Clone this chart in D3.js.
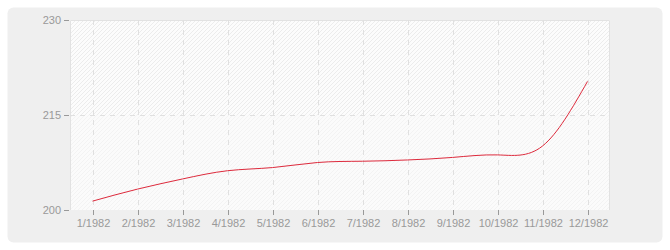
<!DOCTYPE html>
<html>
<head>
<meta charset="utf-8">
<script src="https://cdn.jsdelivr.net/npm/d3@7"></script>
<style>
  body { margin: 0; background: #fff; }
  svg { display: block; font-family: "DejaVu Sans", sans-serif; }
</style>
</head>
<body>
<div id="chart"></div>
<script>
// values
var months = ["1/1982", "2/1982", "3/1982", "4/1982", "5/1982", "6/1982",
              "7/1982", "8/1982", "9/1982", "10/1982", "11/1982", "12/1982"];
var values = [201.4, 203.3, 204.9, 206.2, 206.7, 207.5,
              207.7, 207.9, 208.3, 208.7, 210.1, 220.3];
var yTicks = [200, 215, 230];

var width = 670, height = 250;
var plot = {left: 70, top: 20, right: 610, bottom: 210};

var svg = d3.select("#chart").append("svg")
  .attr("width", width).attr("height", height);

// hatch
var defs = svg.append("defs");
var pat = defs.append("pattern")
  .attr("id", "hatch").attr("patternUnits", "userSpaceOnUse")
  .attr("width", 4).attr("height", 4);
pat.append("rect").attr("width", 4).attr("height", 4).attr("fill", "#fcfcfc");
pat.append("path").attr("d", "M-1,1 l2,-2 M0,4 l4,-4 M3,5 l2,-2")
  .attr("stroke", "#ececec").attr("stroke-width", 1);

svg.append("rect")
  .attr("x", 7.5).attr("y", 7.5).attr("width", 655).attr("height", 235)
  .attr("rx", 6).attr("fill", "#efefef");

var x = d3.scalePoint().domain(months)
  .range([plot.left, plot.right]).padding(0.5);
var y = d3.scaleLinear().domain([200, 230]).range([plot.bottom, plot.top]);

var g = svg.append("g");

g.append("rect")
  .attr("x", plot.left).attr("y", plot.top)
  .attr("width", plot.right - plot.left).attr("height", plot.bottom - plot.top)
  .attr("fill", "url(#hatch)");
// lower band slightly lighter
g.append("rect")
  .attr("x", plot.left).attr("y", y(215))
  .attr("width", plot.right - plot.left).attr("height", y(200) - y(215))
  .attr("fill", "#fafafa").attr("opacity", 0.5);

// plot border
g.append("path")
  .attr("d", "M" + (plot.left + 0.5) + "," + plot.bottom + "V" + (plot.top + 0.5) +
        "H" + (plot.right - 0.5) + "V" + plot.bottom)
  .attr("fill", "none").attr("stroke", "#e2e2e2");

// grid
g.selectAll(".vgrid").data(months).enter().append("line")
  .attr("x1", function(d) { return Math.round(x(d)) + 0.5; })
  .attr("x2", function(d) { return Math.round(x(d)) + 0.5; })
  .attr("y1", plot.top).attr("y2", plot.bottom)
  .attr("stroke", "#e0e0e0").attr("stroke-dasharray", "5,5");
g.selectAll(".hgrid").data([215]).enter().append("line")
  .attr("x1", plot.left).attr("x2", plot.right)
  .attr("y1", function(d) { return Math.round(y(d)) + 0.5; })
  .attr("y2", function(d) { return Math.round(y(d)) + 0.5; })
  .attr("stroke", "#e0e0e0").attr("stroke-dasharray", "5,5");

// axes
var xAxis = d3.axisBottom(x).tickSize(5).tickPadding(4);
var yAxis = d3.axisLeft(y).tickValues(yTicks).tickSize(5).tickPadding(4);

var xa = svg.append("g").attr("transform", "translate(0," + plot.bottom + ")").call(xAxis);
var ya = svg.append("g").attr("transform", "translate(" + plot.left + ",0)").call(yAxis);
[xa, ya].forEach(function(a) {
  a.select(".domain").remove();
  a.selectAll("line").attr("stroke", "#999");
  a.selectAll("text").attr("fill", "#999").style("font-size", "11px");
});
xa.selectAll(".tick").attr("transform", function(d) {
  return "translate(" + (Math.round(x(d)) + 0.5) + ",0)";
});
ya.selectAll(".tick").attr("transform", function(d) {
  return "translate(0," + (Math.round(y(d)) + 0.5) + ")";
});
ya.selectAll(".tick line").attr("transform", "translate(-1,0)");

// line
var line = d3.line()
  .x(function(d, i) { return x(months[i]); })
  .y(function(d) { return y(d); })
  .curve(d3.curveNatural);

svg.append("path").datum(values)
  .attr("d", line)
  .attr("fill", "none").attr("stroke", "#dd2a3c").attr("stroke-width", 1);
</script>
</body>
</html>
